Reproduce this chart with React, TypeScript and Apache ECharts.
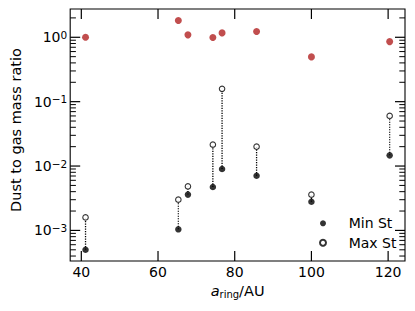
import { useEffect, useRef } from 'react';
import * as echarts from 'echarts';

const ringRadius = [41.1, 65.3, 67.8, 74.3, 76.7, 85.7, 100.0, 120.4];
const gasRatio = [1.0, 1.82, 1.09, 0.99, 1.17, 1.23, 0.496, 0.857];
const minSt = [5.0e-4, 1.04e-3, 3.6e-3, 4.72e-3, 9.0e-3, 7.08e-3, 2.79e-3, 1.465e-2];
const maxSt = [1.59e-3, 3.0e-3, 4.83e-3, 2.15e-2, 0.158, 0.02, 3.59e-3, 0.06];

const xTickValues = [40, 60, 80, 100, 120];
const yMajorTickValues = [1e-3, 1e-2, 1e-1, 1];
const yMinorTickValues = [
  4e-4, 5e-4, 6e-4, 7e-4, 8e-4, 9e-4,
  2e-3, 3e-3, 4e-3, 5e-3, 6e-3, 7e-3, 8e-3, 9e-3,
  2e-2, 3e-2, 4e-2, 5e-2, 6e-2, 7e-2, 8e-2, 9e-2,
  2e-1, 3e-1, 4e-1, 5e-1, 6e-1, 7e-1, 8e-1, 9e-1,
  2,
];

const FONT = 'DejaVu Sans';
const RED = '#b22222';

export default function App() {
  const ref = useRef<HTMLDivElement>(null);

  useEffect(() => {
    if (!ref.current) return;
    const chart = echarts.init(ref.current, null, { renderer: 'svg' });

    const xTickSeries = (len: number, width: number) => (params: any, api: any) => {
      const cs = params.coordSys;
      const px = api.coord([api.value(0), 1])[0];
      const bottom = cs.y + cs.height;
      const st = { stroke: '#000', lineWidth: width };
      return {
        type: 'group',
        children: [
          { type: 'line', shape: { x1: px, y1: bottom, x2: px, y2: bottom - len }, style: st },
          { type: 'line', shape: { x1: px, y1: cs.y, x2: px, y2: cs.y + len }, style: st },
        ],
      };
    };
    const yTickSeries = (len: number, width: number) => (params: any, api: any) => {
      const cs = params.coordSys;
      const py = api.coord([xTickValues[0], api.value(1)])[1];
      const right = cs.x + cs.width;
      const st = { stroke: '#000', lineWidth: width };
      return {
        type: 'group',
        children: [
          { type: 'line', shape: { x1: cs.x, y1: py, x2: cs.x + len, y2: py }, style: st },
          { type: 'line', shape: { x1: right, y1: py, x2: right - len, y2: py }, style: st },
        ],
      };
    };

    const option: any = {
      animation: false,
      textStyle: { fontFamily: FONT },
      grid: {
        left: 67,
        right: 10,
        top: 9,
        bottom: 50,
        show: true,
        borderColor: '#000',
        borderWidth: 1.1,
        backgroundColor: 'transparent',
      },
      legend: {
        data: [{ name: 'Min St' }, { name: 'Max St' }],
        orient: 'vertical',
        left: 319,
        top: 215.3,
        padding: 0,
        itemGap: 3.4,
        itemWidth: 6,
        itemHeight: 6,
        icon: 'circle',
        selectedMode: false,
        textStyle: {
          fontFamily: FONT,
          fontSize: 14,
          color: '#000',
          lineHeight: 16,
          padding: [0, 0, 0, 17.7],
        },
      },
      xAxis: {
        type: 'value',
        min: 37.1,
        max: 124.4,
        splitLine: { show: false },
        axisTick: { show: false },
        axisLine: { show: false },
        axisLabel: {
          color: '#000',
          fontFamily: FONT,
          fontSize: 14,
          margin: 4,
          showMinLabel: false,
          showMaxLabel: false,
        },
        name: '{i|a}{s|ring}{n|/AU}',
        nameLocation: 'middle',
        nameGap: 18.5,
        nameTextStyle: {
          color: '#000',
          rich: {
            i: { fontFamily: FONT, fontStyle: 'italic', fontSize: 14.5, lineHeight: 16, color: '#000' },
            s: { fontFamily: FONT, fontSize: 10, lineHeight: 7, verticalAlign: 'bottom', color: '#000' },
            n: { fontFamily: FONT, fontSize: 14.5, lineHeight: 16, color: '#000' },
          },
        },
      },
      yAxis: {
        type: 'log',
        logBase: 10,
        min: 3.35e-4,
        max: 2.75,
        splitLine: { show: false },
        axisTick: { show: false },
        axisLine: { show: false },
        minorTick: { show: false },
        axisLabel: {
          margin: 3,
          showMinLabel: false,
          showMaxLabel: false,
          formatter: (v: number) => {
            const l = Math.log10(v);
            const n = Math.round(l);
            if (Math.abs(l - n) > 1e-6) return '';
            return `{b|10}{s|${n < 0 ? '\u2212' + -n : n}}`;
          },
          rich: {
            b: { fontFamily: FONT, fontSize: 14, lineHeight: 16, color: '#000' },
            s: { fontFamily: FONT, fontSize: 10.5, lineHeight: 5, verticalAlign: 'top', color: '#000' },
          },
        },
        name: 'Dust to gas mass ratio',
        nameLocation: 'middle',
        nameGap: 42,
        nameTextStyle: {
          color: '#000',
          fontFamily: FONT,
          fontSize: 14.5,
          padding: [0, 0, 0, 10],
        },
      },
      series: [
        {
          name: 'xMajorTicks',
          type: 'custom',
          silent: true,
          z: 5,
          data: xTickValues.map((v) => [v, 1]),
          renderItem: xTickSeries(10, 1.2),
        },
        {
          name: 'yMajorTicks',
          type: 'custom',
          silent: true,
          z: 5,
          data: yMajorTickValues.map((v) => [xTickValues[0], v]),
          renderItem: yTickSeries(10, 1.2),
        },
        {
          name: 'yMinorTicks',
          type: 'custom',
          silent: true,
          z: 5,
          data: yMinorTickValues.map((v) => [xTickValues[0], v]),
          renderItem: yTickSeries(5.7, 1),
        },
        {
          name: 'range',
          type: 'custom',
          silent: true,
          z: 2,
          data: ringRadius.map((r, i) => [r, minSt[i], maxSt[i]]),
          encode: { x: 0, y: [1, 2] },
          renderItem: (params: any, api: any) => {
            const p1 = api.coord([api.value(0), api.value(1)]);
            const p2 = api.coord([api.value(0), api.value(2)]);
            return {
              type: 'line',
              shape: { x1: p1[0], y1: p1[1], x2: p2[0], y2: p2[1] },
              style: { stroke: '#000', lineWidth: 1.3, lineDash: [1.2, 1.3] },
            };
          },
        },
        {
          name: 'Gas',
          type: 'scatter',
          z: 3,
          symbol: 'circle',
          symbolSize: 7,
          itemStyle: { color: RED },
          data: ringRadius.map((r, i) => [r, gasRatio[i]]),
        },
        {
          name: 'Min St',
          type: 'scatter',
          z: 4,
          symbol: 'circle',
          symbolSize: 6.5,
          itemStyle: { color: '#000' },
          data: ringRadius.map((r, i) => [r, minSt[i]]),
        },
        {
          name: 'Max St',
          type: 'scatter',
          z: 4,
          symbol: 'circle',
          symbolSize: 5.5,
          itemStyle: { color: '#fff', borderColor: '#000', borderWidth: 1.1 },
          data: ringRadius.map((r, i) => [r, maxSt[i]]),
        },
      ],
    };

    chart.setOption(option);
    return () => chart.dispose();
  }, []);

  return (
    <div
      ref={ref}
      style={{ position: 'absolute', left: 0, top: 0, width: 415, height: 311, background: '#fff' }}
    />
  );
}
